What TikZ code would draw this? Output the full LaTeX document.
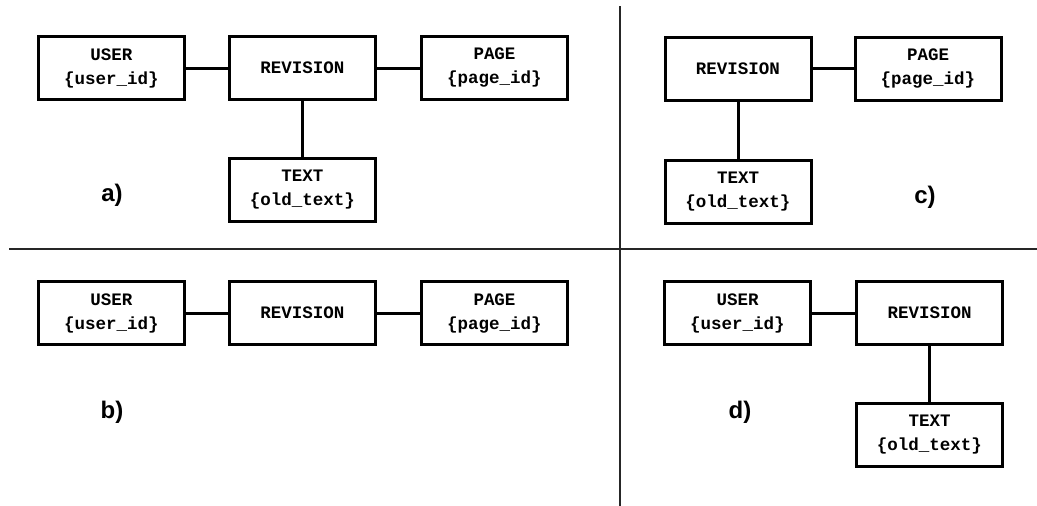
\documentclass[tikz,border=0pt]{standalone}
\usepackage{fontspec}
\setmainfont{Liberation Sans}
\newfontfamily\boxfont{Liberation Mono}
\usetikzlibrary{positioning}

\begin{document}
\begin{tikzpicture}[x=1pt,y=-1pt,
  entity/.style={draw,line width=3pt,minimum width=146pt,minimum height=63pt,
    inner sep=0pt,align=center,font=\boxfont\bfseries\fontsize{17.5}{24}\selectfont},
  link/.style={line width=3pt},
  caption/.style={font=\bfseries\fontsize{24}{28}\selectfont},
  divider/.style={line width=1.6pt,black!85}]

  \useasboundingbox (0,0) rectangle (1037,506);

  % a) user, revision, page and text
  \node[entity] (usera) at (111.5,68) {USER\\\{user\_id\}};
  \node[entity] (reva) [right=42pt of usera] {REVISION};
  \node[entity] (pagea) [right=43pt of reva] {PAGE\\\{page\_id\}};
  \node[entity] (texta) [below=56pt of reva] {TEXT\\\{old\_text\}};
  \draw[link] (usera) -- (reva);
  \draw[link] (reva) -- (pagea);
  \draw[link] (reva) -- (texta);
  \node[caption] (capa) at (112,195) {a)};

  % b) no text
  \node[entity] (userb) at (111.5,313) {USER\\\{user\_id\}};
  \node[entity] (revb) [right=42pt of userb] {REVISION};
  \node[entity] (pageb) [right=43pt of revb] {PAGE\\\{page\_id\}};
  \draw[link] (userb) -- (revb);
  \draw[link] (revb) -- (pageb);
  \node[caption] (capb) at (112,412) {b)};

  % c) no user
  \node[entity] (revc) at (738,68.5) {REVISION};
  \node[entity] (pagec) [right=41pt of revc] {PAGE\\\{page\_id\}};
  \node[entity] (textc) [below=57pt of revc] {TEXT\\\{old\_text\}};
  \draw[link] (revc) -- (pagec);
  \draw[link] (revc) -- (textc);
  \node[caption] (capc) at (925,197) {c)};

  % d) no page
  \node[entity] (userd) at (737.5,313) {USER\\\{user\_id\}};
  \node[entity] (revd) [right=43pt of userd] {REVISION};
  \node[entity] (textd) [below=56pt of revd] {TEXT\\\{old\_text\}};
  \draw[link] (userd) -- (revd);
  \draw[link] (revd) -- (textd);
  \node[caption] (capd) at (740,412) {d)};

  % quadrant dividers
  \coordinate (vtop) at (620,6);
  \coordinate (vbot) at (620,506);
  \coordinate (hleft) at (9,249);
  \coordinate (hright) at (1037,249);
  \draw[divider] (vtop) -- (vbot);
  \draw[divider] (hleft) -- (hright);
\end{tikzpicture}
\end{document}
